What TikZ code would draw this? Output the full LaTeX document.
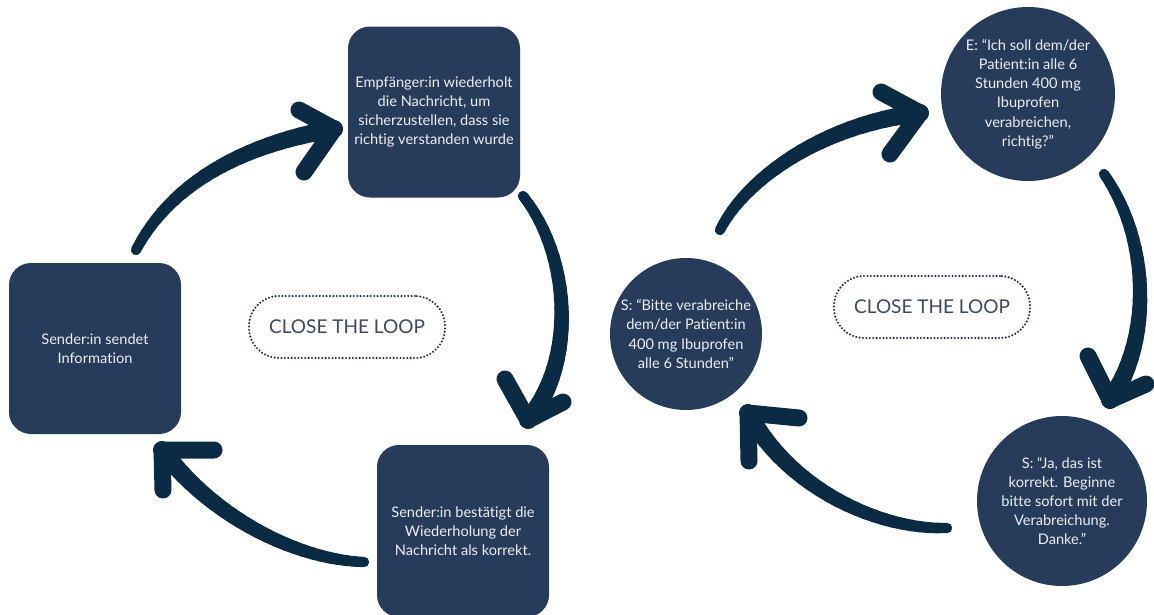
\documentclass[tikz,border=0pt]{standalone}
\usepackage{fontspec}
\setmainfont{Lato}[Ligatures={NoCommon}]
\definecolor{boxc}{HTML}{273C5A}
\definecolor{arrc}{HTML}{0B2B45}
\definecolor{txtc}{HTML}{ECEFF3}
\definecolor{loopc}{HTML}{3A4A60}
\definecolor{dotc}{HTML}{1F2F45}
\newcommand\boxfont{\fontsize{14.6}{19.2}\selectfont}
\newcommand\loopfont{\fontsize{19}{22}\selectfont}
\newcommand\taperstroke[4]{%
  \foreach \k in {0,...,23}{%
    \pgfmathsetmacro\ta{\k/24}%
    \pgfmathsetmacro\tb{(\k+1)/24}%
    \pgfmathsetmacro\lw{10+8*\tb}%
    \pgfsetlinewidth{\lw pt}%
    \pgfpathcurvebetweentime{\ta}{\tb}{\pgfpointanchor{#1}{center}}{\pgfpointanchor{#2}{center}}{\pgfpointanchor{#3}{center}}{\pgfpointanchor{#4}{center}}%
    \pgfusepath{stroke}%
  }%
}
\begin{document}
\begin{tikzpicture}[x=1pt,y=-1pt,
  box/.style={fill=boxc, rounded corners=22pt, minimum width=172pt, minimum height=171pt, text=txtc, align=center, font=\boxfont, inner sep=0pt},
  disc/.style={circle, fill=boxc, text=txtc, align=center, font=\boxfont, inner sep=0pt},
  loopbox/.style={draw=dotc, line width=2.3pt, dash pattern=on 0pt off 3.4pt, line cap=round, rounded corners=30pt, minimum width=196pt, minimum height=62pt, text=loopc, font=\loopfont},
  arm/.style={draw=arrc, line width=17pt, line cap=round, line join=round}]
\useasboundingbox (0,0) rectangle (1154,614);
\fill[white] (0,0) rectangle (1154,614);
% left diagram
\node[box] (A) at (95,348.5) {Sender:in sendet\\Information};
\node[box] (B) at (434,112) {Empfänger:in wiederholt\\die Nachricht, um\\sicherzustellen, dass sie\\richtig verstanden wurde};
\node[box, minimum height=172pt] (C) at (463,531) {Sender:in bestätigt die\\Wiederholung der\\Nachricht als korrekt.};
\node[loopbox] (loopL) at (347,327) {CLOSE THE LOOP};
% right diagram
\node[disc, minimum size=152pt] (D) at (686,334) {S: “Bitte verabreiche\\dem/der Patient:in\\400 mg Ibuprofen\\alle 6 Stunden”};
\node[disc, minimum size=174pt] (E) at (1028,94) {E: “Ich soll dem/der\\Patient:in alle 6\\Stunden 400 mg\\Ibuprofen\\verabreichen,\\richtig?”};
\node[disc, minimum size=170pt] (F) at (1062,501) {S: “Ja, das ist\\korrekt. Beginne\\bitte sofort mit der\\Verabreichung.\\Danke.”};
\node[loopbox] (loopR) at (932,307) {CLOSE THE LOOP};
% arrow coordinates
\coordinate (l1s) at (136,250); \coordinate (l1a) at (170,185); \coordinate (l1b) at (240,145); \coordinate (l1t) at (334,129);
\coordinate (l1u) at (299,110); \coordinate (l1d) at (304,172);
\coordinate (l2s) at (523,196); \coordinate (l2a) at (570,255); \coordinate (l2b) at (577,360); \coordinate (l2t) at (528,420);
\coordinate (l2u) at (505,379); \coordinate (l2d) at (563,402);
\coordinate (l3s) at (364,562); \coordinate (l3a) at (300,560); \coordinate (l3b) at (215,520); \coordinate (l3t) at (162,450);
\coordinate (l3u) at (214,450); \coordinate (l3d) at (163,490);
\coordinate (r1s) at (720,230); \coordinate (r1a) at (745,180); \coordinate (r1b) at (820,125); \coordinate (r1t) at (920,113);
\coordinate (r1u) at (881,92); \coordinate (r1d) at (890,154);
\coordinate (r2s) at (1104,174); \coordinate (r2a) at (1150,240); \coordinate (r2b) at (1152,340); \coordinate (r2t) at (1110,400);
\coordinate (r2u) at (1088,356); \coordinate (r2d) at (1146,384);
\coordinate (r3s) at (947,528); \coordinate (r3a) at (880,530); \coordinate (r3b) at (790,490); \coordinate (r3t) at (748,413);
\coordinate (r3u) at (799,418); \coordinate (r3d) at (749,461);
\begin{scope}
\pgfsetroundcap
\pgfsetstrokecolor{arrc}
\taperstroke{l1s}{l1a}{l1b}{l1t}
\taperstroke{l2s}{l2a}{l2b}{l2t}
\taperstroke{l3s}{l3a}{l3b}{l3t}
\taperstroke{r1s}{r1a}{r1b}{r1t}
\taperstroke{r2s}{r2a}{r2b}{r2t}
\taperstroke{r3s}{r3a}{r3b}{r3t}
\end{scope}
\draw[arm] (l1u) -- (l1t) -- (l1d);
\draw[arm] (l2u) -- (l2t) -- (l2d);
\draw[arm] (l3u) -- (l3t) -- (l3d);
\draw[arm] (r1u) -- (r1t) -- (r1d);
\draw[arm] (r2u) -- (r2t) -- (r2d);
\draw[arm] (r3u) -- (r3t) -- (r3d);
\end{tikzpicture}
\end{document}
